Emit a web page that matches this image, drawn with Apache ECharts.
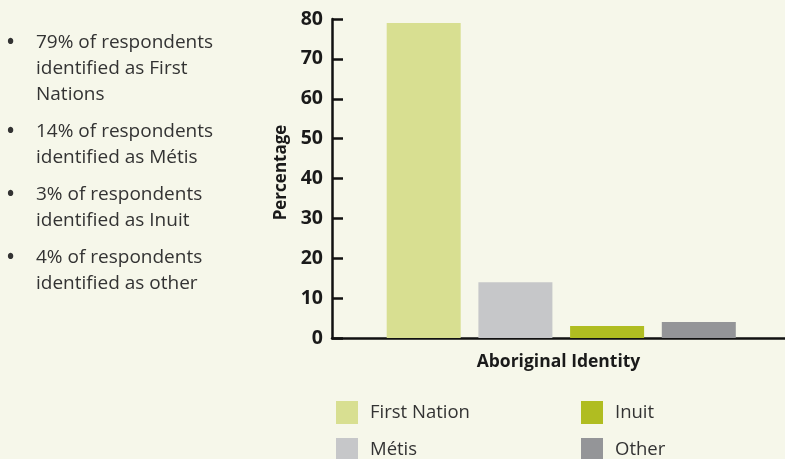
<!DOCTYPE html>
<html>
<head>
<meta charset="utf-8">
<script src="https://cdn.jsdelivr.net/npm/echarts@6/dist/echarts.min.js"></script>
<style>
html,body{margin:0;padding:0;background:#f6f7ea;}
#chart{width:785px;height:459px;}
</style>
</head>
<body>
<div id="chart"></div>
<script>
var categories = ['First Nation', 'Métis', 'Inuit', 'Other'];
var values = [79, 14, 3, 4];
var colors = ['#d8df91', '#c6c7c9', '#b0bd21', '#949598'];
var yTicks = [0, 10, 20, 30, 40, 50, 60, 70, 80];
var bullets = [
  ['79% of respondents', 'identified as First', 'Nations'],
  ['14% of respondents', 'identified as Métis'],
  ['3% of respondents', 'identified as Inuit'],
  ['4% of respondents', 'identified as other']
];

var FONT = '"Open Sans"';
var chart = echarts.init(document.getElementById('chart'), null, {renderer: 'canvas'});

var series = categories.map(function (name, i) {
  return {
    name: name,
    type: 'bar',
    barWidth: 74,
    barGap: '-100%',
    itemStyle: {color: colors[i]},
    data: [[i + 1, values[i]]]
  };
});

var graphics = [];
var y = 43;
bullets.forEach(function (lines) {
  graphics.push({type: 'text', x: 7, y: y, style: {text: '•', font: 'bold 19px ' + FONT, fill: '#333', verticalAlign: 'middle'}});
  lines.forEach(function (ln, li) {
    graphics.push({
      type: 'text', x: 36, y: y,
      style: {text: ln, font: '19px ' + FONT, fill: '#333', verticalAlign: 'middle'}
    });
    if (li < lines.length - 1) y += 26;
  });
  y += 37;
});

// legend: 2 columns x 2 rows (First Nation / Métis in col 1, Inuit / Other in col 2)
var legendSlots = [[336, 401], [336, 438], [581, 401], [581, 438]];
var legends = categories.map(function (name, i) {
  return {
    data: [name],
    left: legendSlots[i][0], top: legendSlots[i][1], padding: 0,
    itemWidth: 22, itemHeight: 23,
    icon: 'rect',
    textStyle: {fontFamily: 'Open Sans', fontSize: 18.5, color: '#333', padding: [0, 0, 0, 7]}
  };
});

chart.setOption({
  animation: false,
  backgroundColor: '#f6f7ea',
  grid: {left: 332, right: 0, top: 19, bottom: 121, containLabel: false},
  legend: legends,
  xAxis: {
    type: 'value', min: 0, max: 4.94,
    name: 'Aboriginal Identity', nameLocation: 'middle', nameGap: 15,
    nameTextStyle: {fontFamily: 'Open Sans', fontSize: 17.5, fontWeight: 'bold', color: '#1a1a1a'},
    axisLine: {show: true, onZero: false, lineStyle: {color: '#111', width: 2.5}},
    axisTick: {show: false}, axisLabel: {show: false}, splitLine: {show: false}
  },
  yAxis: {
    type: 'value', min: yTicks[0], max: yTicks[yTicks.length - 1], interval: 10,
    name: 'Percentage', nameLocation: 'middle', nameRotate: 90, nameGap: 41,
    nameTextStyle: {fontFamily: 'Open Sans', fontSize: 17, fontWeight: 'bold', color: '#1a1a1a', padding: [0, 0, 0, 12]},
    axisLine: {show: true, lineStyle: {color: '#111', width: 2.5}},
    axisTick: {show: true, inside: true, length: 11, lineStyle: {color: '#111', width: 2.5}},
    axisLabel: {margin: 9, fontFamily: 'Open Sans', fontSize: 19.5, fontWeight: 'bold', color: '#1a1a1a'},
    splitLine: {show: false}
  },
  graphic: graphics,
  series: series
});
</script>
</body>
</html>
